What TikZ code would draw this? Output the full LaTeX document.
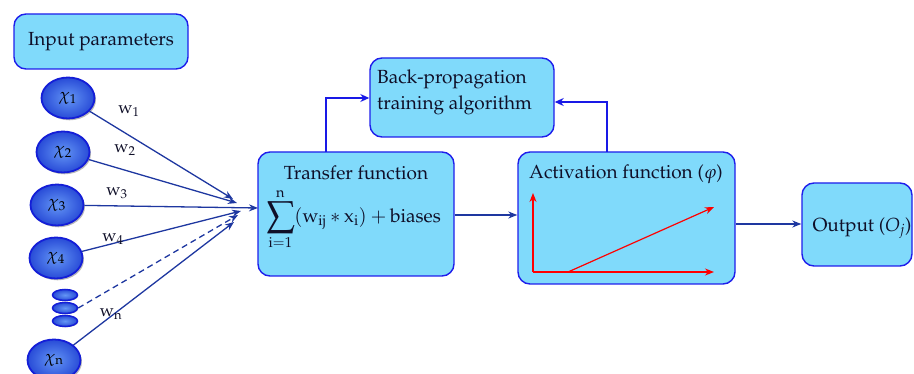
\documentclass[tikz,border=0pt]{standalone}
\usepackage[T1]{fontenc}
\usepackage{mathpazo}
\usetikzlibrary{arrows.meta,shapes.geometric,shadows}

\definecolor{boxfill}{RGB}{128,218,251}
\definecolor{boxline}{RGB}{30,30,235}
\definecolor{wireblue}{RGB}{30,55,160}
\definecolor{loopblue}{RGB}{25,25,230}
\definecolor{ballin}{RGB}{100,150,245}
\definecolor{ballout}{RGB}{40,75,215}
\definecolor{ballline}{RGB}{20,30,215}
\definecolor{inktext}{RGB}{15,15,40}

\newcommand{\bigsum}{\mathop{\vcenter{\hbox{\scalebox{1.35}{$\displaystyle\sum$}}}}\limits}

\tikzset{
  block/.style={draw=boxline, line width=1.4pt, fill=boxfill, rounded corners=12pt,
    inner sep=0pt},
  inball/.style={ellipse, draw=ballline, line width=1.8pt, inner color=ballin,
    outer color=ballout, minimum width=53pt, minimum height=41pt, inner sep=0pt,
    drop shadow={shadow xshift=1.5pt, shadow yshift=-1.8pt, opacity=0.55},
    text=black, font=\fontsize{17}{17}\selectfont},
  dotball/.style={ellipse, draw=ballline, line width=1.5pt, inner color=ballin,
    outer color=ballout, minimum width=25pt, minimum height=11pt, inner sep=0pt,
    drop shadow={shadow xshift=0.8pt, shadow yshift=-0.8pt, opacity=0.45}},
  wire/.style={draw=wireblue, line width=1.3pt, -{Stealth[length=9pt,width=7pt]}},
  loop/.style={draw=loopblue, line width=1.3pt, -{Stealth[length=9pt,width=8pt]}},
  curve/.style={draw=red, line width=1.2pt, -{Stealth[length=9pt,width=7pt]}},
  weight/.style={font=\fontsize{17}{17}\selectfont, text=inktext},
  lbl/.style={font=\fontsize{19}{19}\selectfont, text=inktext, inner sep=0pt},
}

\begin{document}
\begin{tikzpicture}[x=1pt,y=-1pt]
\useasboundingbox (0,0) rectangle (914,374);

% blocks
\node[block, minimum width=174pt, minimum height=55pt] (inp) at (101,41.5) {};
\node[lbl] at (inp.center) {Input parameters};

\node[block, minimum width=184pt, minimum height=79pt] (bp) at (462,97.5) {};
\node[lbl, anchor=west] at (377,79) {Back-propagation};
\node[lbl, anchor=west] at (377,105) {training algorithm};

\node[block, minimum width=196pt, minimum height=124pt] (tf) at (356,214) {};
\node[lbl] at (356,173) {Transfer function};
\node[lbl, anchor=west] at (266,219)
  {$\bigsum_{\mathrm{i}=1}^{\mathrm{n}}(\mathrm{w}_{\mathrm{ij}} * \mathrm{x}_{\mathrm{i}}) + \mathrm{biases}$};

\node[block, minimum width=217pt, minimum height=132pt] (af) at (626.5,218) {};
\node[lbl] at (626,174) {Activation function ($\varphi$)};

\node[block, minimum width=110pt, minimum height=83pt] (out) at (857,224.5) {};
\node[lbl] at (862,228) {Output ($O_j$)};

% activation sketch
\coordinate (o) at (533,272);
\draw[curve] (o) -- (533,193);
\draw[curve] (o) -- (714,272);
\draw[curve] (568,272) -- (714,207);

% inputs
\node[inball] (x1) at (68,98)  {$\chi_1$};
\node[inball] (x2) at (63,152) {$\chi_2$};
\node[inball] (x3) at (57,205) {$\chi_3$};
\node[inball] (x4) at (56,258) {$\chi_4$};
\node[dotball] (d1) at (65,295) {};
\node[dotball] (d2) at (65,308) {};
\node[dotball] (d3) at (65,321) {};
\node[inball] (xn) at (54,360) {$\chi_{\mathrm{n}}$};

% converging weighted links
\coordinate (e1) at (233,199);
\coordinate (e2) at (237,203);
\coordinate (e3) at (258,208);
\coordinate (e4) at (241,211);
\coordinate (e5) at (238,215);
\coordinate (en) at (234,222);
\draw[wire] (x1) -- (e1);
\draw[wire] (x2) -- (e2);
\draw[wire] (x3) -- (e3);
\draw[wire] (x4) -- (e4);
\draw[wire, dashed, dash pattern=on 6pt off 4pt] (d2.east) -- (e5);
\draw[wire] (xn) -- (en);

\node[weight] at (129,111) {$\mathrm{w}_1$};
\node[weight] at (125,150) {$\mathrm{w}_2$};
\node[weight] at (117,193) {$\mathrm{w}_3$};
\node[weight] at (113,239) {$\mathrm{w}_4$};
\node[weight] at (111,314) {$\mathrm{w}_{\mathrm{n}}$};

% forward path
\draw[wire] (tf.east |- 0,215) -- (af.west |- 0,215);
\draw[wire] (af.east |- 0,224) -- (out.west |- 0,224);

% feedback to the training block
\draw[loop] (326,152) |- (bp.west |- 0,98);
\draw[loop] (607,152) |- (bp.east |- 0,102);
\end{tikzpicture}
\end{document}
